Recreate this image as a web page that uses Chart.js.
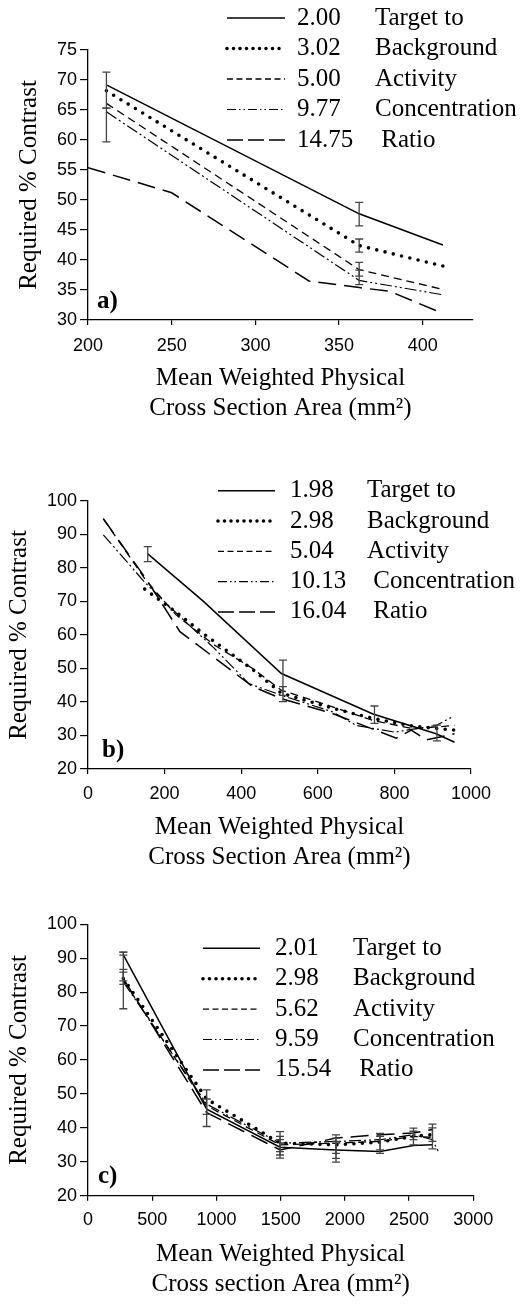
<!DOCTYPE html>
<html>
<head>
<meta charset="utf-8">
<script src="https://cdn.jsdelivr.net/npm/chart.js@4.4.1/dist/chart.umd.min.js"></script>
<style>
  body { margin: 0; background: #fff; }
  #wrap { position: relative; width: 525px; height: 1304px; }
  canvas { position: absolute; left: 0; }
</style>
</head>
<body>
<div id="wrap">
  <canvas id="chartA" width="525" height="440" style="top:0px"></canvas>
  <canvas id="chartB" width="525" height="460" style="top:420px"></canvas>
  <canvas id="chartC" width="525" height="444" style="top:860px"></canvas>
</div>
<script>
// ---- panel a) ----
const ratiosA = ['2.00', '3.02', '5.00', '9.77', '14.75'];
const wordsA = ['Target to', 'Background', 'Activity', 'Concentration', ' Ratio'];
const xTicksA = [200, 250, 300, 350, 400];
const yTicksA = [30, 35, 40, 45, 50, 55, 60, 65, 70, 75];
const a200 = [[211, 69.2], [362, 47.7], [412, 42.5]];
const a302 = [[211, 68.2], [362, 42.4], [412, 39.0]];
const a500 = [[211, 66.1], [362, 38.4], [412, 35.1]];
const a977 = [[211, 64.7], [362, 36.6], [412, 34.2]];
const a1475 = [[200, 55.4], [250, 51.2], [332, 36.5], [362, 35.4], [380, 34.8], [412, 31.1]];
// error bars: [x, low, high]
const barsA = [[211, 65.3, 71.3], [211, 59.7, 65.3], [362, 45.7, 49.6], [362, 41.3, 43.5],
               [362, 37.3, 39.6], [362, 35.9, 38.3]];

// ---- panel b) ----
const ratiosB = ['1.98', '2.98', '5.04', '10.13', '16.04'];
const wordsB = ['Target to', 'Background', 'Activity', ' Concentration', ' Ratio'];
const xTicksB = [0, 200, 400, 600, 800, 1000];
const yTicksB = [20, 30, 40, 50, 60, 70, 80, 90, 100];
const b198 = [[156, 84.2], [300, 70.2], [505, 48.5], [744, 36.4], [909, 30.5], [957, 28.0]];
const b298 = [[148, 73.7], [222, 67.5], [300, 60.5], [431, 49.6], [505, 42.6], [640, 38.1], [744, 35.1], [848, 32.8], [957, 31.6]];
const b504 = [[40, 94.7], [150, 76.5], [230, 66.0], [330, 57.0], [430, 50.0], [505, 43.5], [640, 38.5], [744, 34.5], [850, 32.0], [957, 33.0]];
const b1013 = [[40, 89.9], [150, 75.5], [240, 65.5], [330, 56.0], [420, 45.5], [505, 42.0], [640, 37.0], [700, 33.0], [800, 31.0], [909, 33.0], [955, 35.8]];
const b1604 = [[40, 94.7], [150, 77.0], [240, 61.0], [430, 44.6], [505, 41.0], [640, 36.5], [805, 29.2], [844, 31.6], [883, 28.7], [957, 30.5]];
const barsB = [[156, 81.9, 86.4], [509, 40.1, 52.5], [509, 42.0, 44.6], [748, 33.6, 38.8], [911, 28.4, 33.1]];

// ---- panel c) ----
const ratiosC = ['2.01', '2.98', '5.62', '9.59', '15.54'];
const wordsC = ['Target to', 'Background', 'Activity', 'Concentration', ' Ratio'];
const xTicksC = [0, 500, 1000, 1500, 2000, 2500, 3000];
const yTicksC = [20, 30, 40, 50, 60, 70, 80, 90, 100];
const c201 = [[275, 91.0], [924, 45.5], [1495, 34.3], [1931, 33.5], [2274, 33.0], [2534, 34.8], [2682, 35.0]];
const c298 = [[275, 84.0], [924, 48.5], [1495, 35.5], [1931, 35.0], [2274, 35.8], [2534, 37.5], [2682, 38.0]];
const c562 = [[275, 83.5], [924, 46.5], [1495, 35.0], [1931, 35.5], [2274, 36.0], [2534, 37.5], [2682, 37.2]];
const c959 = [[275, 83.0], [924, 47.0], [1495, 35.5], [1931, 36.0], [2274, 36.5], [2534, 38.0], [2682, 36.5], [2728, 33.0]];
const c1554 = [[275, 84.0], [924, 44.5], [1495, 33.5], [1931, 37.0], [2274, 38.0], [2534, 38.5], [2682, 39.5]];
const barsC = [[275, 75.1, 91.8], [275, 82.3, 86.7], [275, 83.3, 85.9], [275, 90.9, 91.8],
               [924, 40.4, 51.2], [924, 44.0, 48.5],
               [1495, 31.1, 38.9], [1495, 32.0, 37.5], [1495, 33.0, 36.5],
               [1931, 29.9, 37.9], [1931, 31.0, 37.0], [1931, 32.5, 36.0],
               [2274, 32.5, 38.4], [2274, 33.5, 37.5],
               [2534, 35.0, 39.9], [2534, 36.5, 39.0],
               [2682, 33.8, 41.1], [2682, 36.0, 40.0]];

const yTitle = 'Required % Contrast';
const xTitleAB = ['Mean Weighted Physical', 'Cross Section Area (mm\u00B2)'];
const xTitleC = ['Mean Weighted Physical', 'Cross section Area (mm\u00B2)'];

// line looks: solid, dotted, short dash, dash-dot-dot, long dash
const lineStyles = [
    { borderWidth: 1.5, borderDash: [], borderCapStyle: 'butt' },
    { borderWidth: 3.6, borderDash: [0, 8.5], borderCapStyle: 'round' },
    { borderWidth: 1.3, borderDash: [8, 5], borderCapStyle: 'butt' },
    { borderWidth: 1.2, borderDash: [12, 3, 2, 3, 2, 3], borderCapStyle: 'butt' },
    { borderWidth: 1.5, borderDash: [18, 8], borderCapStyle: 'butt' }
];
const legendDash = [[], [0, 6.5], [6, 3.5], [9, 3, 1.5, 3, 1.5, 3], [16, 5]];

const SERIF = '"Liberation Serif", "Times New Roman", serif';
const SANS = '"Liberation Sans", Arial, sans-serif';

const extras = {
    id: 'extras',
    afterDatasetsDraw(chart, args, opts) {
        const { ctx, scales: { x, y } } = chart;
        ctx.save();
        ctx.strokeStyle = '#444';
        ctx.lineWidth = 1.3;
        opts.bars.forEach(([bx, lo, hi]) => {
            const px = x.getPixelForValue(bx);
            const p1 = y.getPixelForValue(lo);
            const p2 = y.getPixelForValue(hi);
            ctx.beginPath();
            ctx.moveTo(px, p1); ctx.lineTo(px, p2);
            ctx.moveTo(px - 4, p1); ctx.lineTo(px + 4, p1);
            ctx.moveTo(px - 4, p2); ctx.lineTo(px + 4, p2);
            ctx.stroke();
        });
        ctx.restore();
    },
    afterDraw(chart, args, opts) {
        const ctx = chart.ctx;
        const lg = opts.legend;
        ctx.save();
        ctx.fillStyle = '#000';
        ctx.strokeStyle = '#000';
        ctx.font = '25px ' + SERIF;
        ctx.textBaseline = 'middle';
        chart.data.datasets.forEach((ds, i) => {
            const yy = lg.y + i * lg.gap;
            ctx.beginPath();
            ctx.setLineDash(legendDash[i]);
            ctx.lineWidth = ds.borderWidth;
            ctx.lineCap = ds.borderCapStyle;
            ctx.moveTo(lg.x0, yy);
            ctx.lineTo(lg.x1, yy);
            ctx.stroke();
            ctx.fillText(opts.values[i], lg.vx, yy);
            ctx.fillText(opts.words[i], lg.wx, yy);
        });
        ctx.setLineDash([]);
        ctx.font = 'bold 25px ' + SERIF;
        ctx.textBaseline = 'alphabetic';
        const area = chart.chartArea;
        ctx.fillText(opts.letter, area.left + opts.letterPos[0], area.bottom - opts.letterPos[1]);
        ctx.restore();
    }
};

function makeChart(p) {
    const datasets = p.series.map((pts, i) => ({
        data: pts.map(([x, y]) => ({ x, y })),
        borderColor: '#000',
        backgroundColor: '#000',
        pointRadius: 0,
        fill: false,
        tension: 0,
        ...lineStyles[i]
    }));

    return new Chart(document.getElementById(p.id), {
        type: 'line',
        data: { datasets },
        plugins: [extras],
        options: {
            responsive: false,
            animation: false,
            devicePixelRatio: 1,
            layout: { padding: p.pad },
            plugins: {
                legend: { display: false },
                tooltip: { enabled: false },
                extras: {
                    bars: p.bars, values: p.values, words: p.words,
                    legend: p.legend, letter: p.letter, letterPos: p.letterPos
                }
            },
            scales: {
                x: {
                    type: 'linear',
                    min: p.xRange[0], max: p.xRange[1],
                    afterBuildTicks: s => { s.ticks = p.xTicks.map(v => ({ value: v })); },
                    afterFit: s => { s.height = 103.5; },
                    ticks: { color: '#000', font: { family: SANS, size: 18 }, padding: p.xTickPad, maxRotation: 0, autoSkip: false,
                             callback: v => String(v) },
                    grid: { drawOnChartArea: false, drawTicks: true, tickLength: 5, color: '#000', lineWidth: 1.2 },
                    border: { display: true, color: '#000', width: 1.3 },
                    title: { display: true, text: p.xTitle, color: '#000', font: { family: SERIF, size: 25, lineHeight: 1.2 }, padding: { top: 0, bottom: 0 } }
                },
                y: {
                    type: 'linear',
                    min: p.yRange[0], max: p.yRange[1],
                    afterBuildTicks: s => { s.ticks = p.yTicks.map(v => ({ value: v })); },
                    afterFit: s => { s.width = 88; },
                    ticks: { color: '#000', font: { family: SANS, size: 18 }, padding: 3, autoSkip: false,
                             callback: v => String(v) },
                    grid: { drawOnChartArea: false, drawTicks: true, tickLength: 8, color: '#000', lineWidth: 1.2 },
                    border: { display: true, color: '#000', width: 1.3 },
                    title: { display: true, text: yTitle, color: '#000', font: { family: SERIF, size: 25, lineHeight: 1.2 }, padding: { top: p.yTitlePad, bottom: 0 } }
                }
            }
        }
    });
}

makeChart({
    id: 'chartA', series: [a200, a302, a500, a977, a1475], bars: barsA,
    values: ratiosA, words: wordsA, xTicks: xTicksA, yTicks: yTicksA,
    xRange: [200, 430], yRange: [30, 75], xTitle: xTitleAB, letter: 'a)',
    pad: { left: 0, top: 50, right: 52, bottom: 16.5 }, yTitlePad: 14, xTickPad: 10,
    legend: { y: 18, gap: 30.5, x0: 227, x1: 285, vx: 297, wx: 375 }, letterPos: [9, 12]
});

makeChart({
    id: 'chartB', series: [b198, b298, b504, b1013, b1604], bars: barsB,
    values: ratiosB, words: wordsB, xTicks: xTicksB, yTicks: yTicksB,
    xRange: [0, 1000], yRange: [20, 100], xTitle: xTitleAB, letter: 'b)',
    pad: { left: 0, top: 81, right: 54, bottom: 7.5 }, yTitlePad: 4, xTickPad: 9,
    legend: { y: 70.7, gap: 30.3, x0: 218, x1: 275, vx: 290, wx: 367 }, letterPos: [14, 12]
});

makeChart({
    id: 'chartC', series: [c201, c298, c562, c959, c1554], bars: barsC,
    values: ratiosC, words: wordsC, xTicks: xTicksC, yTicks: yTicksC,
    xRange: [0, 3000], yRange: [20, 100], xTitle: xTitleC, letter: 'c)',
    pad: { left: 0, top: 64.3, right: 51.7, bottom: 4.8 }, yTitlePad: 4, xTickPad: 9,
    legend: { y: 88.3, gap: 30.4, x0: 203, x1: 260, vx: 275, wx: 353 }, letterPos: [10, 13]
});
</script>
</body>
</html>
